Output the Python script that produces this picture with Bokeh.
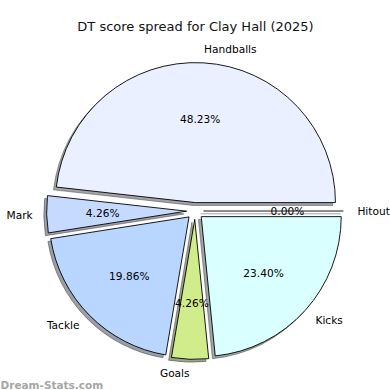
import math
from bokeh.plotting import figure
from bokeh.models import ColumnDataSource, Range1d
from bokeh.core.properties import value
from bokeh.embed import file_html
from bokeh.resources import INLINE

title = "DT score spread for Clay Hall (2025)"
labels = ["Handballs", "Mark", "Tackle", "Goals", "Kicks", "Hitout"]
counts = [68, 6, 28, 6, 33, 0]
colors = ["#EAF0FF", "#C6D9FF", "#B8D6FF", "#D1EC8B", "#DAFFFF", "#FFFFFF"]
watermark = "Dream-Stats.com"

EXPLODE = 0.06
LABEL_DIST = 1.1
PCT_DIST = 0.6
SHADOW = 0.02
FONT = "DejaVu Sans"
FS = "10.6px"

# geometry: 1 data unit = K px
W = H = 390
K = 140.0
CX, CY = 194.5, 210.5  # centre in frame pixels
p = figure(width=W, height=H, output_backend="svg", toolbar_location=None,
           x_range=Range1d(-CX / K, (W - CX) / K),
           y_range=Range1d(-(H - CY) / K, CY / K),
           min_border=0)
p.axis.visible = False
p.grid.visible = False
p.outline_line_color = None
p.background_fill_color = "white"
p.border_fill_color = "white"

total = float(sum(counts))
fr = [c / total for c in counts]
starts, ends, mids = [], [], []
acc = 0.0
for f in fr:
    a0 = acc * 2 * math.pi
    a1 = (acc + f) * 2 * math.pi
    starts.append(a0)
    ends.append(a1)
    mids.append((a0 + a1) / 2)
    acc += f

xs = [EXPLODE * math.cos(m) for m in mids]
ys = [EXPLODE * math.sin(m) for m in mids]


def shade(c):
    r, g, b = int(c[1:3], 16), int(c[3:5], 16), int(c[5:7], 16)
    return "#%02x%02x%02x" % (int(r * 0.3), int(g * 0.3), int(b * 0.3))


nz = [i for i, f in enumerate(fr) if f > 0]
z = [i for i, f in enumerate(fr) if f == 0]

sh = ColumnDataSource(dict(
    x=[xs[i] - SHADOW for i in nz], y=[ys[i] - SHADOW for i in nz],
    s=[starts[i] for i in nz], e=[ends[i] for i in nz],
    c=[shade(colors[i]) for i in nz]))
p.wedge(x="x", y="y", radius=1.0, start_angle="s", end_angle="e",
        direction="anticlock", fill_color="c", line_color="c",
        fill_alpha=0.5, line_alpha=0.5, line_width=1, source=sh)
for i in z:
    p.segment(x0=[xs[i] - SHADOW], y0=[ys[i] - SHADOW],
              x1=[xs[i] - SHADOW + math.cos(starts[i])],
              y1=[ys[i] - SHADOW + math.sin(starts[i])],
              line_color=shade(colors[i]), line_alpha=0.5, line_width=1)

wd = ColumnDataSource(dict(
    x=[xs[i] for i in nz], y=[ys[i] for i in nz],
    s=[starts[i] for i in nz], e=[ends[i] for i in nz],
    c=[colors[i] for i in nz]))
p.wedge(x="x", y="y", radius=1.0, start_angle="s", end_angle="e",
        direction="anticlock", fill_color="c", line_color="black",
        line_width=0.9, source=wd)
for i in z:
    p.segment(x0=[xs[i]], y0=[ys[i]],
              x1=[xs[i] + math.cos(starts[i])], y1=[ys[i] + math.sin(starts[i])],
              line_color="black", line_width=0.9)

# category labels
lx = [xs[i] + LABEL_DIST * math.cos(mids[i]) for i in range(len(labels))]
ly = [ys[i] + LABEL_DIST * math.sin(mids[i]) for i in range(len(labels))]
al = ["left" if math.cos(m) > 0 else "right" for m in mids]
p.text(x=lx, y=ly, text=labels, text_align=al, text_baseline="middle",
       text_font=value(FONT), text_font_size=FS, text_color="black")

# percentage labels
px_ = [xs[i] + PCT_DIST * math.cos(mids[i]) for i in range(len(labels))]
py_ = [ys[i] + PCT_DIST * math.sin(mids[i]) for i in range(len(labels))]
pct = ["%.2f%%" % (100 * f) for f in fr]
p.text(x=px_, y=py_, text=pct, text_align="center", text_baseline="middle",
       text_font=value(FONT), text_font_size=FS, text_color="black")

# title
p.text(x=[(W / 2 - CX) / K], y=[(CY - 26) / K], text=[title],
       text_align="center", text_baseline="middle",
       text_font=value(FONT), text_font_size="13px", text_color="#111111")

# watermark
p.text(x=[-CX / K], y=[(CY - 384) / K], text=[watermark],
       text_align="left", text_baseline="alphabetic",
       text_font=value(FONT), text_font_size="10.5px", text_font_style="bold",
       text_color="#a6a6a6")

open("out.html", "w").write(file_html(p, INLINE))
